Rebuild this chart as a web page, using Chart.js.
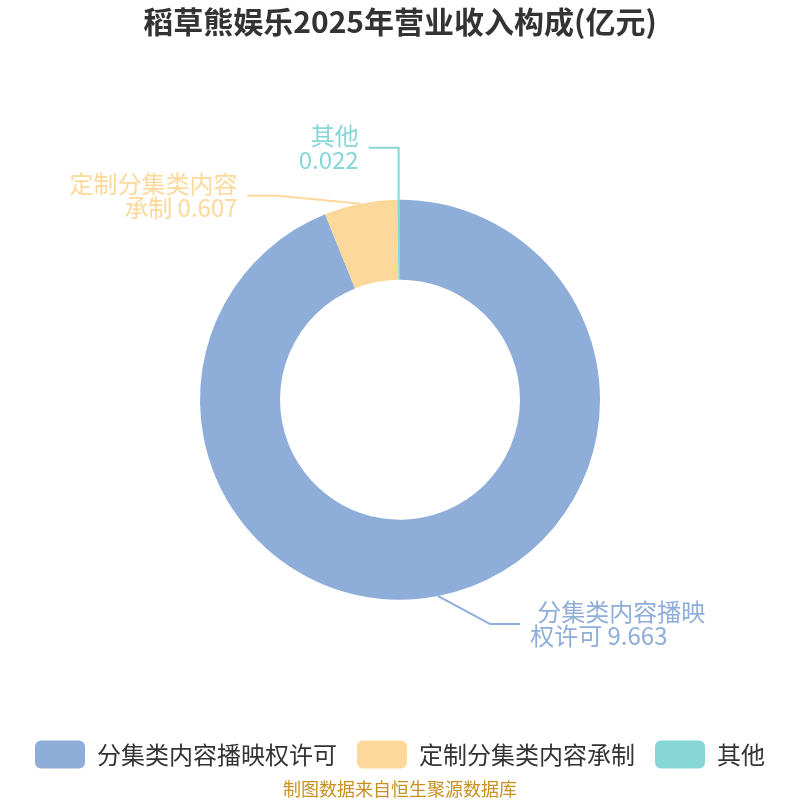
<!DOCTYPE html>
<html>
<head>
<meta charset="utf-8">
<script src="https://cdn.jsdelivr.net/npm/chart.js@4/dist/chart.umd.min.js"></script>
<style>
  html, body { margin: 0; padding: 0; background: #fff; }
  #wrap { width: 800px; height: 800px; }
</style>
</head>
<body>
<div id="wrap"><canvas id="pie"></canvas></div>
<script>
const FONT = '"Noto Sans CJK SC", "Noto Sans", sans-serif';
const categories = ['分集类内容播映权许可', '定制分集类内容承制', '其他'];
const revenue = [9.663, 0.607, 0.022];
// wrapped label text as shown beside each slice (value is appended)
const labelLines = [['分集类内容播映', '权许可'], ['定制分集类内容', '承制'], ['其他', '']];
const colors = ['#8fadd9', '#fdd89b', '#87d6d8'];

// leader line shape per slice: elbow offset from slice edge, then horizontal run
const leaders = [
  {dx: 52, dy: 28, run: 30, first: 7},
  {dx: -83, dy: -8, run: -30, first: 0},
  {dx: 0, dy: -52, run: -30, first: 0}
];

const sliceLabels = {
  id: 'sliceLabels',
  afterDatasetsDraw(chart) {
    const ctx = chart.ctx;
    const meta = chart.getDatasetMeta(0);
    meta.data.forEach((arc, i) => {
      const p = arc.getProps(['x', 'y', 'startAngle', 'endAngle', 'outerRadius'], true);
      const mid = (p.startAngle + p.endAngle) / 2;
      const sx = p.x + Math.cos(mid) * p.outerRadius;
      const sy = p.y + Math.sin(mid) * p.outerRadius;
      const L = leaders[i];
      const ex = sx + L.dx, ey = sy + L.dy;
      const tx = ex + L.run;
      ctx.save();
      ctx.strokeStyle = colors[i];
      ctx.lineWidth = 2;
      ctx.beginPath();
      ctx.moveTo(sx, sy);
      ctx.lineTo(ex, ey);
      ctx.lineTo(tx, ey);
      ctx.stroke();
      ctx.fillStyle = colors[i];
      ctx.font = '24px ' + FONT;
      ctx.textBaseline = 'middle';
      const right = L.run < 0;
      ctx.textAlign = right ? 'right' : 'left';
      const lines = labelLines[i].slice();
      const v = revenue[i].toFixed(3);
      lines[1] = lines[1] ? lines[1] + ' ' + v : v;
      const gx = right ? tx - 10 : tx + 10;
      ctx.fillText(lines[0], gx + L.first, ey - 12);
      ctx.fillText(lines[1], gx, ey + 12);
      ctx.restore();
    });
  }
};

new Chart(document.getElementById('pie'), {
  type: 'doughnut',
  data: {
    labels: categories,
    datasets: [{
      data: revenue,
      backgroundColor: colors,
      borderWidth: 0,
      radius: 200,
      cutout: '60%'
    }]
  },
  options: {
    responsive: true,
    maintainAspectRatio: false,
    animation: false,
    layout: {padding: 0},
    plugins: {
      title: {
        display: true,
        text: '稻草熊娱乐2025年营业收入构成(亿元)',
        color: '#333',
        font: {family: FONT, size: 30, weight: 'bold'},
        padding: {top: 4, bottom: 39}
      },
      subtitle: {
        display: true,
        position: 'bottom',
        text: '制图数据来自恒生聚源数据库',
        color: '#c8901e',
        font: {family: FONT, size: 18},
        padding: {top: 0, bottom: 0}
      },
      legend: {
        position: 'bottom',
        labels: {
          boxWidth: 50,
          boxHeight: 28,
          padding: 20,
          useBorderRadius: true,
          borderRadius: 6,
          color: '#333',
          font: {family: FONT, size: 24}
        }
      },
      tooltip: {enabled: false}
    }
  },
  plugins: [sliceLabels]
});
</script>
</body>
</html>
